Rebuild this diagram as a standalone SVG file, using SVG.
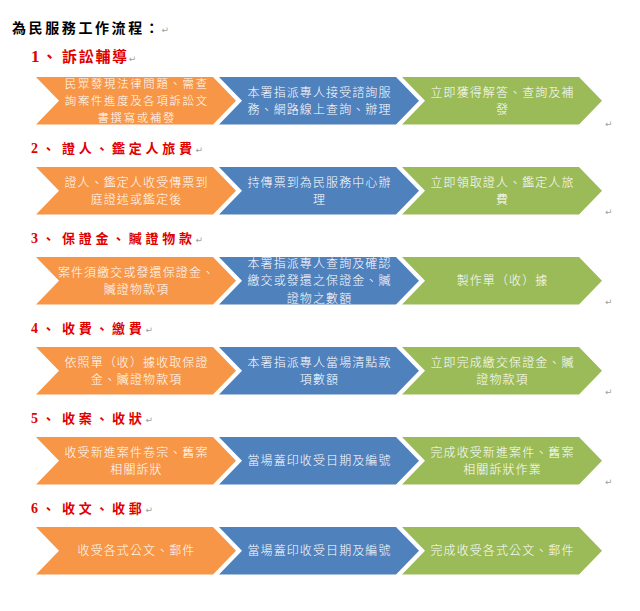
<svg xmlns="http://www.w3.org/2000/svg" width="640" height="611" viewBox="0 0 640 611">
<style>
.title{font-family:"Noto Sans CJK TC","Noto Sans CJK SC",sans-serif;font-weight:700;font-size:14px;letter-spacing:2.6px;fill:#000}
.num{font-family:"Liberation Serif",serif;font-weight:700;fill:#E00000}
.head{font-family:"Noto Sans CJK TC","Noto Sans CJK SC",sans-serif;font-weight:700;fill:#E00000}
.ret{font-family:"DejaVu Sans",sans-serif;font-size:9px;font-weight:400;fill:#A0A0A0;letter-spacing:0}
.lbl{font-family:"Noto Sans CJK TC","Noto Sans CJK SC",sans-serif;font-weight:300;font-size:12px;letter-spacing:1.1px;fill:#fff;text-anchor:middle}
.sm{font-size:11.4px;letter-spacing:1.7px}
.or{fill:#F79646}.bl{fill:#4F81BD}.gr{fill:#9BBB59}
</style>
<defs>
<path id="chev" d="M0,0 L177,0 L200,23.75 L177,47.5 L0,47.5 L23,23.75 Z"/>
</defs>
<text class="title" x="12" y="33">為民服務工作流程：<tspan class="ret">↵</tspan></text>

<g id="row1">
<text class="num" x="31" y="62" font-size="17">1</text>
<text class="head" x="42" y="62" font-size="15" letter-spacing="1.7">、</text>
<text class="head" x="62" y="62" font-size="15" letter-spacing="1.7">訴訟輔導<tspan class="ret">↵</tspan></text>
<g id="n1a"><use href="#chev" class="or" x="36" y="77"/>
<text class="lbl sm" x="136.8" y="88.3">民眾發現法律問題、需查</text><text class="lbl sm" x="136.8" y="105">詢案件進度及各項訴訟文</text><text class="lbl sm" x="136.8" y="121.7">書撰寫或補發</text></g>
<g id="n1b"><use href="#chev" class="bl" x="219" y="77"/>
<text class="lbl" x="319.5" y="96.75">本署指派專人接受諮詢服</text><text class="lbl" x="319.5" y="113.75">務、網路線上查詢、辦理</text></g>
<g id="n1c"><use href="#chev" class="gr" x="402" y="77"/>
<text class="lbl" x="502.5" y="96.75">立即獲得解答、查詢及補</text><text class="lbl" x="502.5" y="113.75">發</text></g>
<text class="ret" x="605" y="127">↵</text>
</g>

<g id="row2">
<text class="num" x="31" y="153" font-size="14">2</text>
<text class="head" x="42" y="153" font-size="13" letter-spacing="3.7">、</text>
<text class="head" x="62" y="153" font-size="13" letter-spacing="3.7">證人、鑑定人旅費<tspan class="ret">↵</tspan></text>
<g id="n2a"><use href="#chev" class="or" x="36" y="167"/>
<text class="lbl" x="136.5" y="186.75">證人、鑑定人收受傳票到</text><text class="lbl" x="136.5" y="203.75">庭證述或鑑定後</text></g>
<g id="n2b"><use href="#chev" class="bl" x="219" y="167"/>
<text class="lbl" x="319.5" y="186.75">持傳票到為民服務中心辦</text><text class="lbl" x="319.5" y="203.75">理</text></g>
<g id="n2c"><use href="#chev" class="gr" x="402" y="167"/>
<text class="lbl" x="502.5" y="186.75">立即領取證人、鑑定人旅</text><text class="lbl" x="502.5" y="203.75">費</text></g>
<text class="ret" x="605" y="215">↵</text>
</g>

<g id="row3">
<text class="num" x="31" y="243" font-size="14">3</text>
<text class="head" x="42" y="243" font-size="13" letter-spacing="3.7">、</text>
<text class="head" x="62" y="243" font-size="13" letter-spacing="3.7">保證金、贓證物款<tspan class="ret">↵</tspan></text>
<g id="n3a"><use href="#chev" class="or" x="36" y="257"/>
<text class="lbl" x="136.5" y="276.75">案件須繳交或發還保證金、</text><text class="lbl" x="136.5" y="293.75">贓證物款項</text></g>
<g id="n3b"><use href="#chev" class="bl" x="219" y="257"/>
<text class="lbl" x="319.5" y="267.5">本署指派專人查詢及確認</text><text class="lbl" x="319.5" y="285.25">繳交或發還之保證金、贓</text><text class="lbl" x="319.5" y="303">證物之數額</text></g>
<g id="n3c"><use href="#chev" class="gr" x="402" y="257"/>
<text class="lbl" x="502.5" y="285.25">製作單（收）據</text></g>
<text class="ret" x="605" y="305">↵</text>
</g>

<g id="row4">
<text class="num" x="31" y="333" font-size="14">4</text>
<text class="head" x="42" y="333" font-size="13" letter-spacing="3.7">、</text>
<text class="head" x="62" y="333" font-size="13" letter-spacing="3.7">收費、繳費<tspan class="ret">↵</tspan></text>
<g id="n4a"><use href="#chev" class="or" x="36" y="347"/>
<text class="lbl" x="136.5" y="366.75">依照單（收）據收取保證</text><text class="lbl" x="136.5" y="383.75">金、贓證物款項</text></g>
<g id="n4b"><use href="#chev" class="bl" x="219" y="347"/>
<text class="lbl" x="319.5" y="366.75">本署指派專人當場清點款</text><text class="lbl" x="319.5" y="383.75">項數額</text></g>
<g id="n4c"><use href="#chev" class="gr" x="402" y="347"/>
<text class="lbl" x="502.5" y="366.75">立即完成繳交保證金、贓</text><text class="lbl" x="502.5" y="383.75">證物款項</text></g>
<text class="ret" x="605" y="395">↵</text>
</g>

<g id="row5">
<text class="num" x="31" y="423" font-size="14">5</text>
<text class="head" x="42" y="423" font-size="13" letter-spacing="3.7">、</text>
<text class="head" x="62" y="423" font-size="13" letter-spacing="3.7">收案、收狀<tspan class="ret">↵</tspan></text>
<g id="n5a"><use href="#chev" class="or" x="36" y="437"/>
<text class="lbl" x="136.5" y="456.75">收受新進案件卷宗、舊案</text><text class="lbl" x="136.5" y="473.75">相關訴狀</text></g>
<g id="n5b"><use href="#chev" class="bl" x="219" y="437"/>
<text class="lbl" x="319.5" y="465.25">當場蓋印收受日期及編號</text></g>
<g id="n5c"><use href="#chev" class="gr" x="402" y="437"/>
<text class="lbl" x="502.5" y="456.75">完成收受新進案件、舊案</text><text class="lbl" x="502.5" y="473.75">相關訴狀作業</text></g>
<text class="ret" x="605" y="485">↵</text>
</g>

<g id="row6">
<text class="num" x="31" y="513" font-size="14">6</text>
<text class="head" x="42" y="513" font-size="13" letter-spacing="3.7">、</text>
<text class="head" x="62" y="513" font-size="13" letter-spacing="3.7">收文、收郵<tspan class="ret">↵</tspan></text>
<g id="n6a"><use href="#chev" class="or" x="36" y="527"/>
<text class="lbl" x="136.5" y="555.25">收受各式公文、郵件</text></g>
<g id="n6b"><use href="#chev" class="bl" x="219" y="527"/>
<text class="lbl" x="319.5" y="555.25">當場蓋印收受日期及編號</text></g>
<g id="n6c"><use href="#chev" class="gr" x="402" y="527"/>
<text class="lbl" x="502.5" y="555.25">完成收受各式公文、郵件</text></g>
</g>
</svg>
